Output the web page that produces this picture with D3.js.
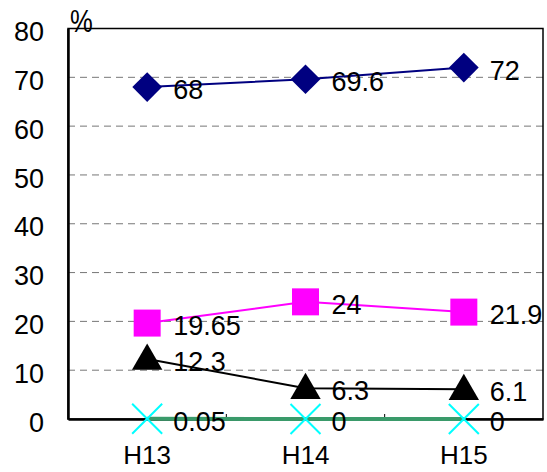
<!DOCTYPE html>
<html>
<head>
<meta charset="utf-8">
<script src="https://cdn.jsdelivr.net/npm/d3@7"></script>
<style>
  html, body { margin: 0; padding: 0; background: #fff; }
  svg { display: block; font-family: "Liberation Sans Narrow", "Liberation Sans", Arial, sans-serif; }
</style>
</head>
<body>
<svg id="chart" width="547" height="472"></svg>
<script>
// Fiscal years on the category axis
const categories = ["H13", "H14", "H15"];

// Percentages for each series
const seriesDiamond  = [68, 69.6, 72];
const seriesSquare   = [19.65, 24, 21.9];
const seriesTriangle = [12.3, 6.3, 6.1];
const seriesCross    = [0.05, 0, 0];

// Value-axis ticks
const yTicks = [0, 10, 20, 30, 40, 50, 60, 70, 80];

const series = [
  { values: seriesDiamond,  line: "#000080", fill: "#000080", shape: "diamond",  width: 2 },
  { values: seriesSquare,   line: "#ff00ff", fill: "#ff00ff", shape: "square",   width: 2 },
  { values: seriesTriangle, line: "#000000", fill: "#000000", shape: "triangle", width: 2 },
  { values: seriesCross,    line: "#3a9a6a", fill: "#00ffff", shape: "cross",    width: 4 }
];

const FONT = "'Liberation Sans Narrow', 'Liberation Sans', Arial, sans-serif";
const svg = d3.select("#chart");
const plotLeft = 68, plotRight = 543, plotTop = 28.5, plotBottom = 419;

const x = d3.scaleBand().domain(categories).range([plotLeft, plotRight]);
const y = d3.scaleLinear().domain([0, 80]).range([plotBottom, plotTop]);
const cx = c => x(c) + x.bandwidth() / 2;

// Dashed gridlines
svg.append("g")
  .selectAll("line")
  .data(yTicks.filter(t => t > 0 && t < 80))
  .join("line")
  .attr("x1", plotLeft).attr("x2", plotRight)
  .attr("y1", d => y(d)).attr("y2", d => y(d))
  .attr("stroke", "#777").attr("stroke-width", 1)
  .attr("stroke-dasharray", "7,5");

// Plot frame
svg.append("rect")
  .attr("x", plotLeft).attr("y", plotTop)
  .attr("width", plotRight - plotLeft).attr("height", plotBottom - plotTop)
  .attr("fill", "none").attr("stroke", "#000").attr("stroke-width", 1.5);

// Value axis
const yAxis = d3.axisLeft(y).tickValues(yTicks).tickSize(0).tickPadding(24);
const gy = svg.append("g").attr("transform", `translate(${plotLeft},0)`).call(yAxis);
gy.select(".domain").attr("stroke", "#000").attr("stroke-width", 2.5);
gy.selectAll("text").attr("font-size", 27).attr("fill", "#000")
  .attr("font-family", FONT).attr("dy", "0.45em");

// Category axis with inner ticks at band boundaries
const xAxis = d3.axisBottom(x).tickSize(0).tickPadding(27);
const gx = svg.append("g").attr("transform", `translate(0,${plotBottom})`).call(xAxis);
gx.select(".domain").attr("stroke", "#000").attr("stroke-width", 2.5);
gx.selectAll("text").attr("font-size", 26).attr("fill", "#000")
  .attr("font-family", FONT);
svg.append("g")
  .selectAll("line")
  .data(categories.slice(1))
  .join("line")
  .attr("x1", d => x(d)).attr("x2", d => x(d))
  .attr("y1", plotBottom).attr("y2", plotBottom - 5)
  .attr("stroke", "#000").attr("stroke-width", 1);

// Unit label
svg.append("text")
  .attr("x", 70).attr("y", 32)
  .attr("font-size", 32).attr("fill", "#000")
  .attr("font-family", FONT)
  .attr("transform", "translate(70,32) scale(0.8,1) translate(-70,-32)")
  .text("%");

const lineGen = d3.line().x((d, i) => cx(categories[i])).y(d => y(d));

const symbolFor = {
  diamond:  d3.symbol().type(d3.symbolSquare).size(21 * 21),
  square:   d3.symbol().type(d3.symbolSquare).size(27 * 27),
  triangle: d3.symbol().type(d3.symbolTriangle).size(400)
};

series.forEach(s => {
  const g = svg.append("g");
  g.append("path")
    .datum(s.values)
    .attr("d", lineGen)
    .attr("fill", "none")
    .attr("stroke", s.line)
    .attr("stroke-width", s.width);

  const m = g.selectAll("g.mk")
    .data(s.values)
    .join("g")
    .attr("class", "mk")
    .attr("transform", (d, i) => `translate(${cx(categories[i])},${y(d)})`);

  if (s.shape === "cross") {
    const r = 15;
    m.append("path")
      .attr("d", `M${-r},${-r}L${r},${r}M${-r},${r}L${r},${-r}`)
      .attr("stroke", s.fill).attr("stroke-width", 2).attr("fill", "none");
  } else {
    m.append("path")
      .attr("d", symbolFor[s.shape]())
      .attr("transform", s.shape === "diamond" ? "rotate(45)" : (s.shape === "triangle" ? "translate(0,2)" : null))
      .attr("fill", s.fill);
  }

  // Value labels to the right of each point
  g.selectAll("text")
    .data(s.values)
    .join("text")
    .attr("x", (d, i) => cx(categories[i]) + 26)
    .attr("y", d => y(d))
    .attr("dy", "0.45em")
    .attr("font-size", 27)
    .attr("font-family", FONT)
    .attr("fill", "#000")
    .text(d => d);
});
</script>
</body>
</html>
